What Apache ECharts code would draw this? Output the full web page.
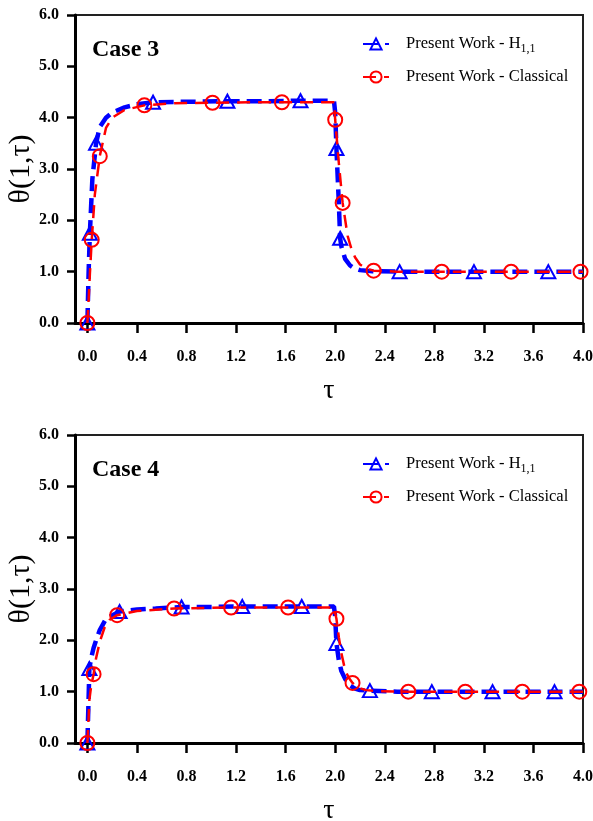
<!DOCTYPE html>
<html>
<head>
<meta charset="utf-8">
<script src="https://cdn.jsdelivr.net/npm/echarts@6/dist/echarts.min.js"></script>
<style>
html,body{margin:0;padding:0;background:#fff;}
#chart{width:593px;height:821px;}
</style>
</head>
<body>
<div id="chart"></div>
<script>
// ---------- Data ----------
const xTicks = [0.0, 0.4, 0.8, 1.2, 1.6, 2.0, 2.4, 2.8, 3.2, 3.6, 4.0];
const seriesNames = ['Present Work - H1,1', 'Present Work - Classical'];
const panelTitles = ['Case 3', 'Case 4'];

// Case 3, H1,1 : curve points (without markers) and marker points
const c3H11Tau   = [0.005, 0.01, 0.04, 0.1, 0.15, 0.2, 0.3, 0.4, 0.8, 1.4, 1.99, 2.0, 2.03, 2.05, 2.08, 2.12, 2.15, 2.2, 2.3, 4.0];
const c3H11Theta = [0.5, 1.0, 2.8, 3.82, 4.0, 4.1, 4.2, 4.26, 4.31, 4.32, 4.33, 4.1, 2.3, 1.49, 1.25, 1.12, 1.07, 1.03, 1.01, 1.0];
const c3H11MarkTau   = [0.0, 0.02, 0.07, 0.53, 1.13, 1.72, 2.01, 2.04, 2.52, 3.12, 3.72];
const c3H11MarkTheta = [0.0, 1.75, 3.5, 4.3, 4.32, 4.33, 3.4, 1.65, 1.0, 1.0, 1.0];

// Case 3, Classical
const c3ClTau   = [0.01, 0.02, 0.06, 0.15, 0.2, 0.3, 0.7, 1.3, 1.99, 2.03, 2.1, 2.13, 2.16, 2.2, 2.25, 2.5, 4.0];
const c3ClTheta = [0.45, 0.95, 2.5, 3.8, 4.0, 4.15, 4.28, 4.3, 4.3, 3.1, 1.7, 1.45, 1.28, 1.14, 1.06, 1.0, 1.0];
const c3ClMarkTau   = [0.0, 0.035, 0.1, 0.46, 1.01, 1.57, 2.0, 2.06, 2.31, 2.86, 3.42, 3.98];
const c3ClMarkTheta = [0.0, 1.62, 3.25, 4.24, 4.29, 4.3, 3.96, 2.34, 1.02, 1.0, 1.0, 1.0];

// Case 4, H1,1
const c4H11Tau   = [0.005, 0.01, 0.03, 0.05, 0.07, 0.1, 0.15, 0.4, 0.55, 1.0, 1.5, 1.99, 2.0, 2.03, 2.05, 2.08, 2.12, 2.16, 2.2, 2.5, 4.0];
const c4H11Theta = [0.45, 0.9, 1.65, 1.85, 2.0, 2.2, 2.42, 2.6, 2.62, 2.65, 2.66, 2.66, 2.45, 1.6, 1.4, 1.25, 1.12, 1.06, 1.03, 1.0, 1.0];
const c4H11MarkTau   = [0.0, 0.016, 0.26, 0.76, 1.25, 1.73, 2.01, 2.28, 2.78, 3.27, 3.77];
const c4H11MarkTheta = [0.0, 1.45, 2.56, 2.65, 2.66, 2.66, 1.94, 1.02, 1.0, 1.0, 1.0];

// Case 4, Classical
const c4ClTau   = [0.01, 0.016, 0.03, 0.07, 0.1, 0.14, 0.18, 0.4, 1.99, 2.03, 2.05, 2.08, 2.11, 2.18, 2.25, 2.35, 4.0];
const c4ClTheta = [0.5, 0.84, 1.1, 1.65, 1.97, 2.26, 2.4, 2.57, 2.64, 2.05, 1.75, 1.42, 1.27, 1.08, 1.03, 1.01, 1.0];
const c4ClMarkTau   = [0.0, 0.05, 0.24, 0.7, 1.16, 1.62, 2.01, 2.14, 2.59, 3.05, 3.51, 3.97];
const c4ClMarkTheta = [0.0, 1.34, 2.49, 2.62, 2.64, 2.64, 2.42, 1.17, 1.0, 1.0, 1.0, 1.0];

// ---------- Build ----------
function merge(tau, theta, mTau, mTheta) {
  const pts = [];
  tau.forEach((t, i) => pts.push({t: t, v: theta[i], m: false}));
  mTau.forEach((t, i) => pts.push({t: t, v: mTheta[i], m: true}));
  pts.sort((a, b) => a.t - b.t);
  return pts.map(p => p.m ? {value: [p.t, p.v]} : {value: [p.t, p.v], symbol: 'none'});
}

const FONT = "'Liberation Serif', 'Times New Roman', serif";
const BLUE = '#0000ff';
const RED = '#ff0000';

const panels = [
  {h11: merge(c3H11Tau, c3H11Theta, c3H11MarkTau, c3H11MarkTheta), cl: merge(c3ClTau, c3ClTheta, c3ClMarkTau, c3ClMarkTheta)},
  {h11: merge(c4H11Tau, c4H11Theta, c4H11MarkTau, c4H11MarkTheta), cl: merge(c4ClTau, c4ClTheta, c4ClMarkTau, c4ClMarkTheta)}
];

const gridTops = [15, 435];
const grids = [], xAxes = [], yAxes = [], series = [], titles = [], legends = [];

panels.forEach((p, k) => {
  grids.push({left: 75, right: 10, top: gridTops[k], height: 308, show: true, borderColor: '#222', borderWidth: 2,
    backgroundColor: 'transparent', containLabel: false, outerBoundsMode: 'none'});
  xAxes.push({
    type: 'value', gridIndex: k, min: -0.1, max: 4.0,
    name: 'τ', nameLocation: 'middle', nameGap: 54, nameMoveOverlap: false,
    nameTextStyle: {fontFamily: FONT, fontSize: 28, color: '#000'},
    axisLine: {onZero: false, lineStyle: {color: '#000', width: 3}},
    axisTick: {customValues: xTicks, length: 10, lineStyle: {color: '#000', width: 2.5}},
    axisLabel: {customValues: xTicks, margin: 26, fontFamily: FONT, fontSize: 16, fontWeight: 'bold', color: '#000', formatter: v => v.toFixed(1)},
    splitLine: {show: false}
  });
  yAxes.push({
    type: 'value', gridIndex: k, min: 0, max: 6, interval: 1,
    name: 'θ(1,τ)', nameLocation: 'middle', nameGap: 39, nameMoveOverlap: false,
    nameTextStyle: {fontFamily: FONT, fontSize: 30, color: '#000'},
    axisLine: {onZero: false, lineStyle: {color: '#000', width: 3}},
    axisTick: {length: 8, lineStyle: {color: '#000', width: 2.5}},
    axisLabel: {margin: 16, fontFamily: FONT, fontSize: 16, fontWeight: 'bold', color: '#000', formatter: v => v.toFixed(1)},
    splitLine: {show: false}
  });
  titles.push({text: panelTitles[k], left: 92, top: gridTops[k] + 23, padding: 0,
    textStyle: {fontFamily: FONT, fontSize: 24, fontWeight: 'bold', color: '#000'}});
  legends.push({
    data: seriesNames, orient: 'vertical', left: 362, top: gridTops[k] + 18, padding: 0,
    itemWidth: 26, itemHeight: 14, itemGap: 11,
    textStyle: {fontFamily: FONT, fontSize: 16.5, color: '#000', lineHeight: 22, padding: [0, 0, 0, 12],
      rich: {sub: {fontFamily: FONT, fontSize: 12, color: '#000', padding: [9, 0, 0, 0]}}},
    formatter: n => n === seriesNames[0] ? 'Present Work - H{sub|1,1}' : n
  });
  series.push({
    name: seriesNames[0], type: 'line', xAxisIndex: k, yAxisIndex: k,
    data: p.h11, symbol: 'triangle', symbolSize: [14, 13], showSymbol: true, showAllSymbol: true,
    color: BLUE,
    lineStyle: {color: BLUE, width: 4.5, type: [15, 7]},
    itemStyle: {color: 'rgba(255,255,255,0)', borderColor: BLUE, borderWidth: 2},
    animation: false, z: 2
  });
  series.push({
    name: seriesNames[1], type: 'line', xAxisIndex: k, yAxisIndex: k,
    data: p.cl, symbol: 'circle', symbolSize: 14, showSymbol: true, showAllSymbol: true,
    color: RED,
    lineStyle: {color: RED, width: 2.5, type: [13, 8]},
    itemStyle: {color: 'rgba(255,255,255,0)', borderColor: RED, borderWidth: 2},
    animation: false, z: 3
  });
});

const chart = echarts.init(document.getElementById('chart'), null, {renderer: 'canvas'});
chart.setOption({
  backgroundColor: '#fff',
  animation: false,
  title: titles,
  legend: legends,
  grid: grids,
  xAxis: xAxes,
  yAxis: yAxes,
  series: series
});
</script>
</body>
</html>
